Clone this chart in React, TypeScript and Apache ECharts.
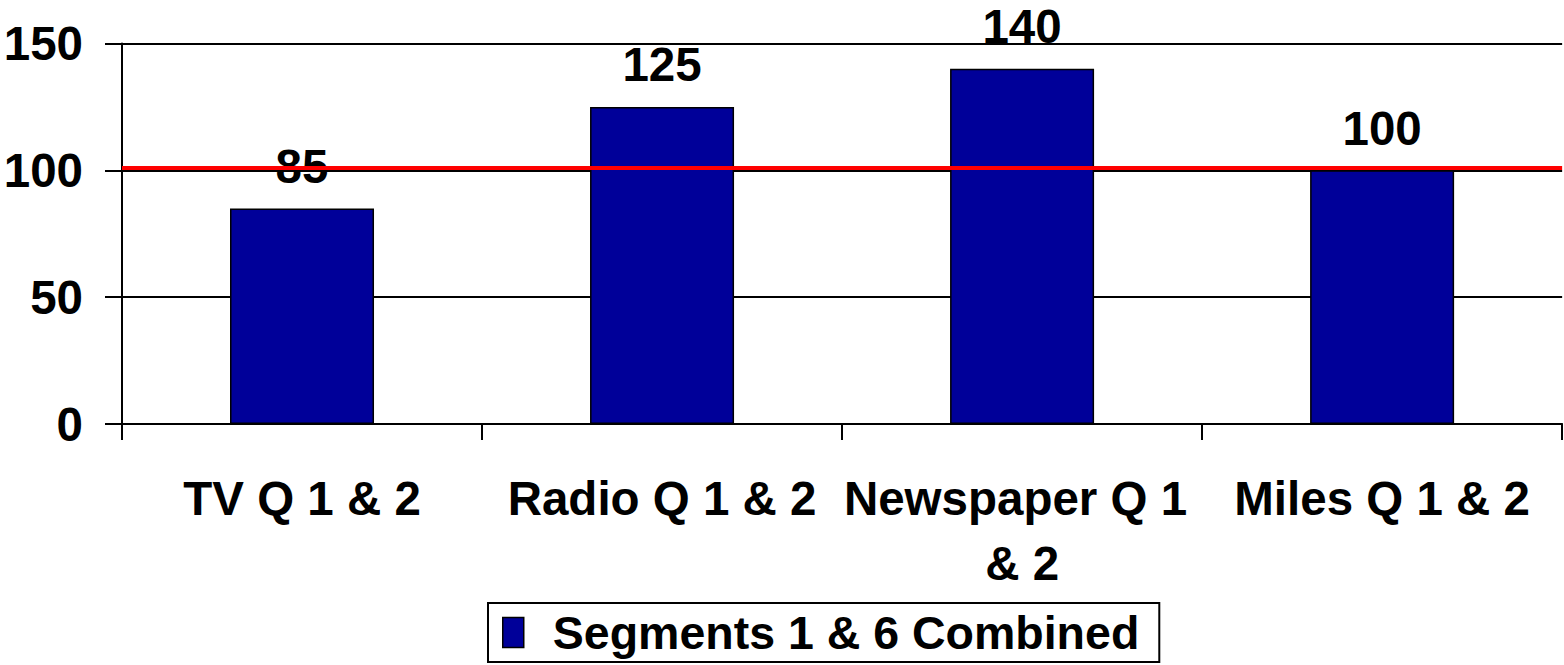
import React, { useEffect, useRef } from "react";
import * as echarts from "echarts";

const categories = ["TV Q 1 & 2", "Radio Q 1 & 2", "Newspaper Q 1 & 2", "Miles Q 1 & 2"];
const seriesName = "Segments 1 & 6 Combined";
const values = [85, 125, 140, 100];
const referenceValue = 101;
const yTicks = { min: 0, max: 150, interval: 50 };

const FONT = "'Liberation Sans', Arial, sans-serif";

export default function App() {
  const ref = useRef<HTMLDivElement>(null);
  useEffect(() => {
    if (!ref.current) return;
    const chart = echarts.init(ref.current, undefined, { renderer: "svg" });
    chart.setOption({
      animation: false,
      backgroundColor: "#ffffff",
      textStyle: { fontFamily: FONT },
      grid: { left: 122, right: 1, top: 43.5, bottom: 241, containLabel: false },
      legend: {
        show: true,
        left: 488,
        top: 603,
        padding: [6, 20, 6, 14],
        borderColor: "#000",
        borderWidth: 2,
        itemWidth: 21,
        itemHeight: 30,
        itemGap: 10,
        textStyle: { fontSize: 46.5, fontWeight: "bold", color: "#000", fontFamily: FONT, padding: [0, 0, 0, 24] },
        data: [{ name: seriesName, icon: "rect", itemStyle: { color: "#000099", borderColor: "#000", borderWidth: 1.5 } }],
      },
      xAxis: {
        type: "category",
        data: categories,
        boundaryGap: true,
        axisLine: { lineStyle: { color: "#000", width: 2 } },
        axisTick: { show: true, length: 16, alignWithLabel: false, lineStyle: { color: "#000", width: 2 } },
        axisLabel: {
          color: "#000",
          fontSize: 47.5,
          fontWeight: "bold",
          fontFamily: FONT,
          margin: 42,
          width: 358,
          overflow: "break",
          lineHeight: 65,
          interval: 0,
        },
      },
      yAxis: {
        type: "value",
        min: yTicks.min,
        max: yTicks.max,
        interval: yTicks.interval,
        axisLine: { show: true, lineStyle: { color: "#000", width: 2 } },
        axisTick: { show: true, length: 17, lineStyle: { color: "#000", width: 2 } },
        splitLine: { show: true, lineStyle: { color: "#000", width: 2 } },
        axisLabel: { color: "#000", fontSize: 47.5, fontWeight: "bold", fontFamily: FONT, margin: 39 },
      },
      series: [
        {
          name: seriesName,
          type: "bar",
          data: values,
          barWidth: "40%",
          itemStyle: { color: "#000099", borderColor: "#000", borderWidth: 1.5 },
          label: {
            show: true,
            position: "top",
            distance: 18,
            color: "#000",
            fontSize: 47.5,
            fontWeight: "bold",
            fontFamily: FONT,
          },
          markLine: {
            silent: true,
            symbol: "none",
            label: { show: false },
            lineStyle: { color: "#ff0000", width: 4, type: "solid" },
            data: [{ yAxis: referenceValue }],
          },
        },
      ],
    });
    return () => chart.dispose();
  }, []);
  return (
    <div
      ref={ref}
      style={{ position: "absolute", left: 0, top: 0, width: 1564, height: 665 }}
    />
  );
}
